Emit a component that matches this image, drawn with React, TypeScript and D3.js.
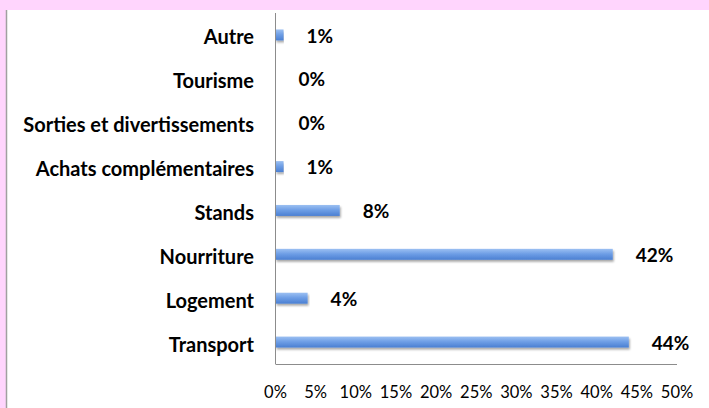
import React from "react";
import * as d3 from "d3";

const categories = [
  "Autre",
  "Tourisme",
  "Sorties et divertissements",
  "Achats complémentaires",
  "Stands",
  "Nourriture",
  "Logement",
  "Transport",
];
const values = [0.01, 0, 0, 0.01, 0.08, 0.42, 0.04, 0.44];
const xTicks = [0, 0.05, 0.1, 0.15, 0.2, 0.25, 0.3, 0.35, 0.4, 0.45, 0.5];

const W = 709;
const H = 408;

export default function App() {
  const x = d3.scaleLinear().domain([0, 0.5]).range([275.5, 677]);
  const y = d3
    .scaleBand<string>()
    .domain(categories)
    .range([13, 364])
    .paddingInner(0.75)
    .paddingOuter(0.375);
  const fmt = d3.format(".0%");
  const font = "Lato, 'Open Sans', sans-serif";

  return (
    <svg
      width={W}
      height={H}
      style={{ position: "absolute", left: 0, top: 0, display: "block" }}
    >
      <defs>
        <linearGradient id="barGrad" x1="0" y1="0" x2="0" y2="1">
          <stop offset="0%" stopColor="#9cc0f2" />
          <stop offset="45%" stopColor="#6f9fe6" />
          <stop offset="100%" stopColor="#4a7fd2" />
        </linearGradient>
        <filter id="shadow" x="-5%" y="-50%" width="110%" height="250%">
          <feGaussianBlur in="SourceAlpha" stdDeviation="1.2" />
          <feOffset dx="1" dy="2" result="ob" />
          <feComponentTransfer>
            <feFuncA type="linear" slope="0.35" />
          </feComponentTransfer>
          <feMerge>
            <feMergeNode />
            <feMergeNode in="SourceGraphic" />
          </feMerge>
        </filter>
      </defs>
      <rect x={0} y={0} width={W} height={H} fill="#ffd5fd" />
      <rect x={7} y={10} width={W - 7} height={H - 10} fill="#ffffff" />
      <line x1={6.5} x2={6.5} y1={10} y2={H} stroke="#a0a0a0" strokeWidth={1.5} />

      {categories.map((c, i) => {
        const v = values[i];
        const yc = (y(c) as number) + y.bandwidth() / 2;
        return (
          <g key={c}>
            <text
              x={254}
              y={yc + 2.5}
              dy="0.35em"
              textAnchor="end"
              fontFamily={font}
              fontWeight="bold"
              fontSize={20}
              fill="#000"
            >
              {c}
            </text>
            {v > 0 && (
              <rect
                x={x(0)}
                y={y(c) as number}
                width={x(v) - x(0)}
                height={y.bandwidth()}
                fill="url(#barGrad)"
                filter="url(#shadow)"
              />
            )}
            <text
              x={x(v) + 23}
              y={yc + 1}
              dy="0.35em"
              fontFamily={font}
              fontWeight="bold"
              fontSize={19}
              fill="#000"
            >
              {fmt(v)}
            </text>
          </g>
        );
      })}

      <line x1={275.5} x2={275.5} y1={13} y2={364} stroke="#8c8c8c" strokeWidth={1} />
      <line x1={275.5} x2={677} y1={364.5} y2={364.5} stroke="#8c8c8c" strokeWidth={1} />

      {xTicks.map((t) => (
        <text
          key={t}
          x={x(t)}
          y={392.5}
          dy="0.35em"
          textAnchor="middle"
          fontFamily={font}
          fontSize={16.5}
          fill="#000"
        >
          {fmt(t)}
        </text>
      ))}
    </svg>
  );
}
